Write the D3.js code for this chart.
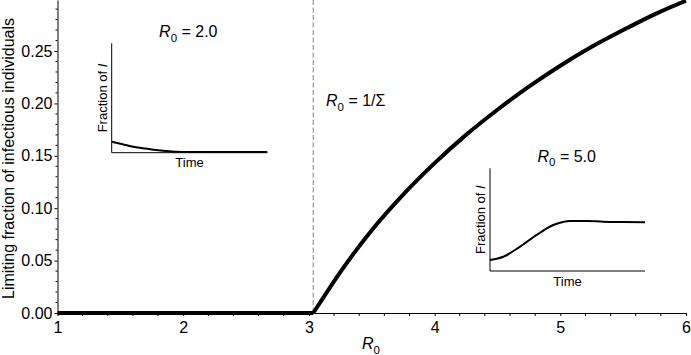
<!DOCTYPE html>
<html>
<head>
<meta charset="utf-8">
<script src="https://cdn.jsdelivr.net/npm/d3@7"></script>
<style>
  html, body { margin: 0; padding: 0; background: #fff; }
  svg text { font-family: "Liberation Sans", Arial, Helvetica, sans-serif; fill: #000; }
</style>
</head>
<body>
<svg id="chart" width="691" height="355"></svg>
<script>
// ---- Data ----
const r0Values = [1, 2, 3.035, 3.1, 3.25, 3.5, 3.75, 4.0, 4.25, 4.5, 4.75, 5.0, 5.25, 5.5, 5.75, 6.0];
const infectiousFraction = [0, 0, 0, 0.012, 0.039, 0.079, 0.113, 0.143, 0.170, 0.194, 0.216, 0.236, 0.254, 0.270, 0.285, 0.298];
const threshold = 3.035;           // R0 = 1/Σ
const xTicks = [1, 2, 3, 4, 5, 6];
const yTicks = [0, 0.05, 0.10, 0.15, 0.20, 0.25];

// Inset time series (relative units)
const inset1Time = [0, 0.07, 0.139, 0.2, 0.289, 0.35, 0.418, 0.5, 0.6, 0.8, 1.0];
const inset1Frac = [0.100, 0.078, 0.055, 0.040, 0.025, 0.016, 0.0095, 0.007, 0.006, 0.006, 0.006];
const inset2Time = [0, 0.086, 0.194, 0.301, 0.408, 0.47, 0.516, 0.624, 0.731, 0.85, 1.0];
const inset2Frac = [0.107, 0.139, 0.237, 0.351, 0.448, 0.478, 0.487, 0.487, 0.480, 0.477, 0.474];

// ---- Layout ----
const svg = d3.select("#chart");
const mLeft = 57.5, mRight = 686, mTop = 0, mBottom = 313;
const FONT = 16;

const x = d3.scaleLinear().domain([1, 6]).range([mLeft, mRight]);
const y = d3.scaleLinear().domain([0, 0.2987]).range([mBottom, mTop]);

// minor ticks
const xMinor = d3.range(1, 6.0001, 0.2).filter(v => Math.abs(v - Math.round(v)) > 1e-6);
const yMinor = d3.range(0, 0.2951, 0.01).filter(v => Math.abs(v * 20 - Math.round(v * 20)) > 1e-6);

// X axis
const gx = svg.append("g").attr("transform", `translate(0,${mBottom})`);
gx.call(d3.axisBottom(x).tickValues(xTicks).tickFormat(d3.format("d")).tickSize(3).tickPadding(6).tickSizeOuter(0));
gx.selectAll("text").style("font-size", FONT + "px");
gx.selectAll("line,path").attr("stroke", "#000");
gx.selectAll(".minor").data(xMinor).enter().append("line")
  .attr("x1", d => x(d)).attr("x2", d => x(d)).attr("y1", 0).attr("y2", 3)
  .attr("stroke", "#000").attr("stroke-width", 1);

// Y axis
const gy = svg.append("g").attr("transform", `translate(${mLeft},0)`);
gy.call(d3.axisLeft(y).tickValues(yTicks).tickFormat(d3.format(".2f")).tickSize(3).tickPadding(2).tickSizeOuter(0));
gy.selectAll("text").style("font-size", FONT + "px");
gy.selectAll("line,path").attr("stroke", "#000");
gy.selectAll(".minor").data(yMinor).enter().append("line")
  .attr("x1", 0).attr("x2", -2).attr("y1", d => y(d)).attr("y2", d => y(d))
  .attr("stroke", "#000").attr("stroke-width", 1);

// Axis labels
svg.append("text")
  .attr("transform", `translate(14,${(mTop + mBottom) / 2 + 2}) rotate(-90)`)
  .attr("text-anchor", "middle")
  .style("font-size", FONT + "px")
  .text("Limiting fraction of infectious individuals");

function r0Label(sel, rest, size) {
  sel.append("tspan").style("font-style", "italic").text("R");
  sel.append("tspan").attr("dy", size * 0.3).style("font-size", (size * 0.72) + "px").text("0");
  if (rest) sel.append("tspan").attr("dy", -size * 0.3).text(rest);
}

const xl = svg.append("text").attr("x", 371).attr("y", 349)
  .attr("text-anchor", "middle").style("font-size", FONT + "px");
r0Label(xl, null, FONT);

// threshold dashed line
svg.append("line")
  .attr("x1", x(threshold)).attr("x2", x(threshold))
  .attr("y1", mTop).attr("y2", mBottom)
  .attr("stroke", "#aaaaaa").attr("stroke-width", 1.5)
  .attr("stroke-dasharray", "5,2.5");

// main curve: flat zero part (linear) + endemic branch (smooth), joined at the threshold
const pts = r0Values.map((r, i) => [r, infectiousFraction[i]]);
const zeroPart = pts.filter(p => p[0] <= threshold);
const endemicPart = pts.filter(p => p[0] >= threshold);
svg.append("path")
  .datum(zeroPart)
  .attr("d", d3.line().x(d => x(d[0])).y(d => y(d[1])))
  .attr("fill", "none").attr("stroke", "#000").attr("stroke-width", 4);
svg.append("path")
  .datum(endemicPart)
  .attr("d", d3.line().x(d => x(d[0])).y(d => y(d[1])).curve(d3.curveMonotoneX))
  .attr("fill", "none").attr("stroke", "#000").attr("stroke-width", 4)
  .attr("stroke-linejoin", "round");

// threshold label
const tl = svg.append("text").attr("x", 326).attr("y", 106).style("font-size", FONT + "px");
r0Label(tl, " = 1/\u03A3", FONT);

// ---- Insets ----
function inset(cfg) {
  const ix = d3.scaleLinear().domain([0, 1]).range([cfg.x0, cfg.x1]);
  const iy = d3.scaleLinear().domain([0, 1]).range([cfg.y1, cfg.y0]);
  const g = svg.append("g");
  g.append("path")
    .attr("d", `M${cfg.x0},${cfg.y0}V${cfg.y1}H${cfg.x1}`)
    .attr("fill", "none").attr("stroke", "#000").attr("stroke-width", 1);
  g.append("path")
    .datum(cfg.vals)
    .attr("d", d3.line().x((d, i) => ix(cfg.times[i])).y(d => iy(d)).curve(d3.curveMonotoneX))
    .attr("fill", "none").attr("stroke", "#000").attr("stroke-width", 2);
  const t = g.append("text").attr("x", cfg.titleX).attr("y", cfg.titleY)
    .attr("text-anchor", "middle").style("font-size", FONT + "px");
  r0Label(t, " = " + cfg.title, FONT);
  g.append("text").attr("x", (cfg.x0 + cfg.x1) / 2).attr("y", cfg.y1 + 14.5)
    .attr("text-anchor", "middle").style("font-size", "13px").text("Time");
  const fl = g.append("text")
    .attr("transform", `translate(${cfg.x0 - 5},${(cfg.y0 + cfg.y1) / 2}) rotate(-90)`)
    .attr("text-anchor", "middle").style("font-size", "13px");
  fl.append("tspan").text("Fraction of ");
  fl.append("tspan").style("font-style", "italic").text("I");
}

inset({ x0: 111.7, x1: 267.3, y0: 43.3, y1: 152.7, times: inset1Time, vals: inset1Frac,
        title: "2.0", titleX: 188.3, titleY: 37 });
inset({ x0: 490, x1: 645, y0: 168.3, y1: 271, times: inset2Time, vals: inset2Frac,
        title: "5.0", titleX: 566.7, titleY: 161.5 });
</script>
</body>
</html>
